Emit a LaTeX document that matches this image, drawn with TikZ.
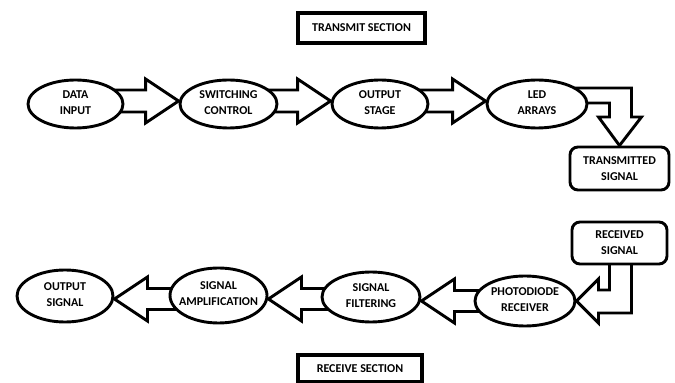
\documentclass[tikz,border=0pt]{standalone}
\usepackage{fontspec}
\setmainfont{Carlito}
\usetikzlibrary{shapes.geometric,calc,backgrounds}
\newcommand\ovalnode[5]{\node[oval, minimum width=#3pt, minimum height=#4pt, label={[yshift=1.5pt]center:#5}] (#1) at (#2) {};}
\newcommand\rblock[3]{\draw[blk] let \p1=(#1.center), \p2=(#2.west) in
  (\x1,#3pt-11pt) -- (\x2-33pt,#3pt-11pt) -- (\x2-33pt,#3pt-22pt) -- (\x2,#3pt) --
  (\x2-33pt,#3pt+22pt) -- (\x2-33pt,#3pt+11pt) -- (\x1,#3pt+11pt) -- cycle;}
\newcommand\lblock[3]{\draw[blk] let \p1=(#1.center), \p2=(#2.east) in
  (\x1,#3pt-10.5pt) -- (\x2+33pt,#3pt-10.5pt) -- (\x2+33pt,#3pt-22pt) -- (\x2,#3pt) --
  (\x2+33pt,#3pt+22pt) -- (\x2+33pt,#3pt+10.5pt) -- (\x1,#3pt+10.5pt) -- cycle;}
\begin{document}
\begin{tikzpicture}[x=1pt,y=1pt,
  every node/.style={font=\bfseries\fontsize{12}{16}\selectfont, align=center, text=black},
  oval/.style={ellipse, draw, line width=2.9pt, fill=white, inner sep=0pt},
  sigbox/.style={draw, rounded corners=8pt, line width=2.9pt, fill=white, inner sep=0pt},
  titlebox/.style={draw, line width=3.3pt, inner sep=0pt, fill=white},
  blk/.style={draw, line width=2.9pt, line join=miter, fill=white}]
\useasboundingbox (0,0) rectangle (675,383);
% titles
\node[titlebox, minimum width=127pt, minimum height=30pt, font=\bfseries\fontsize{12}{14}\selectfont] (tx) at (361.5,355) {TRANSMIT SECTION};
\node[titlebox, minimum width=124pt, minimum height=27pt, font=\bfseries\fontsize{12}{14}\selectfont] (rx) at (360,14.5) {RECEIVE SECTION};
% transmit row
\ovalnode{data}{75.5,279}{95}{48}{DATA\\INPUT}
\ovalnode{sw}{228.5,279}{97}{48}{SWITCHING\\CONTROL}
\ovalnode{outst}{380,279}{96}{48}{OUTPUT\\STAGE}
\ovalnode{led}{537,279}{100}{48}{LED\\ARRAYS}
\node[sigbox, minimum width=99pt, minimum height=43pt] (trans) at (619.5,214.5) {TRANSMITTED\\SIGNAL};
% receive row
\node[sigbox, minimum width=95pt, minimum height=42pt] (recv) at (619.5,140) {RECEIVED\\SIGNAL};
\ovalnode{photo}{525,82}{100}{50}{PHOTODIODE\\RECEIVER}
\ovalnode{filt}{371,86}{98}{50}{SIGNAL\\FILTERING}
\ovalnode{amp}{218.5,87.5}{97}{55}{SIGNAL\\AMPLIFICATION}
\ovalnode{osig}{65,87}{96}{52}{OUTPUT\\SIGNAL}
% block arrows
\begin{scope}[on background layer]
\rblock{data}{sw}{282}
\rblock{sw}{outst}{282}
\rblock{outst}{led}{282}
\draw[blk] let \p1=(led.center), \p2=(trans.north) in
  (\x1,295pt) -- (\x2+12pt,295pt) -- (\x2+12pt,266pt) -- (\x2+22pt,266pt) -- (\x2,\y2) --
  (\x2-21pt,266pt) -- (\x2-10pt,266pt) -- (\x2-10pt,280pt) -- (\x1,280pt) -- cycle;
\draw[blk] let \p1=(recv.center), \p2=(photo.east) in
  (\x1-10pt,\y1) -- (\x1+12pt,\y1) -- (\x1+12pt,\y2-12pt) -- (\x2+22pt,\y2-12pt) --
  (\x2+22pt,\y2-22pt) -- (\x2,\y2) -- (\x2+22pt,\y2+22pt) -- (\x2+22pt,\y2+11pt) --
  (\x1-10pt,\y2+11pt) -- cycle;
\lblock{photo}{filt}{82}
\lblock{filt}{amp}{84}
\lblock{amp}{osig}{84}
\end{scope}
\end{tikzpicture}
\end{document}
